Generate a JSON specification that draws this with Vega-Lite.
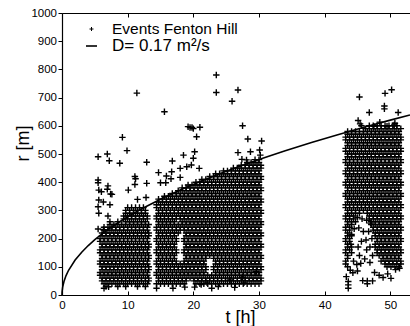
{
"$schema": "https://vega.github.io/schema/vega-lite/v6.json",
"width": 348, "height": 282,
"autosize": "none",
"padding": {"left": 62, "top": 13, "right": 0, "bottom": 31},
"background": "white",
"config": {"font": "Liberation Sans", "view": {"stroke": null},
 "axis": {"grid": false, "domainColor": "black", "tickColor": "black", "labelColor": "black", "titleColor": "black", "labelFont": "Liberation Sans", "titleFont": "Liberation Sans", "domainWidth": 1.2, "tickWidth": 1, "labelFlush": false, "labelOverlap": false},
 "legend": {"orient": "none", "legendX": 21, "legendY": 7.5, "title": null, "padding": 0, "symbolSize": 121, "symbolType": "stroke", "labelFontSize": 15.5, "labelOffset": 12, "rowPadding": -1, "labelColor": "black", "labelBaseline": "middle", "labelLimit": 300, "symbolStrokeColor": "black", "symbolStrokeWidth": 1.6}},
"encoding": {"y": {"field": "r", "type": "quantitative", "scale": {"domain": [0, 1000], "nice": false},
 "axis": {"orient": "left", "values": [0,100,200,300,400,500,600,700,800,900,1000], "format": "d", "tickSize": 4, "labelPadding": 1.5, "labelFontSize": 11.5, "title": "r [m]", "titleFontSize": 18, "titleFontWeight": "normal", "titleAngle": -90, "titleX": -34, "titleY": 130, "titleBaseline": "alphabetic", "titleAlign": "center"}}},
"layer": [
{"data": {"values": [
{"t":11.4,"r":716},{"t":23.5,"r":780},{"t":23.5,"r":718},{"t":26.8,"r":727},{"t":25.9,"r":687},{"t":45.3,"r":702},{"t":49.2,"r":715},{"t":50.2,"r":728},{"t":49.1,"r":670},{"t":49.1,"r":660},{"t":15.6,"r":650},
{"t":5.5,"r":490},{"t":6.9,"r":500},{"t":7.2,"r":476},{"t":9.2,"r":559},{"t":9.9,"r":512},{"t":8.8,"r":467},{"t":12.9,"r":471},{"t":5.5,"r":408},{"t":5.5,"r":398},{"t":5.6,"r":372},{"t":6.0,"r":366},{"t":6.9,"r":375},{"t":7.0,"r":387},{"t":7.6,"r":357},{"t":5.6,"r":337},{"t":6.3,"r":330},{"t":10.1,"r":372},{"t":11.1,"r":420},{"t":11.2,"r":412},{"t":11.1,"r":392},{"t":11.5,"r":339},{"t":12.9,"r":396},{"t":5.5,"r":313},{"t":5.6,"r":290},{"t":5.5,"r":234},{"t":6.3,"r":232},{"t":12.8,"r":346},{"t":7.3,"r":320},{"t":7.4,"r":358},
{"t":19.2,"r":597},{"t":19.5,"r":594},{"t":19.8,"r":594},{"t":20.0,"r":590},{"t":20.5,"r":561},{"t":16.8,"r":475},{"t":18.0,"r":449},{"t":18.5,"r":496},{"t":20.2,"r":508},{"t":20.0,"r":485},{"t":19.7,"r":461},{"t":19.0,"r":455},{"t":20.9,"r":449},{"t":14.7,"r":434},{"t":15.9,"r":422},{"t":16.7,"r":437},{"t":16.6,"r":412},{"t":15.0,"r":398},{"t":18.0,"r":417},{"t":15.8,"r":398},
{"t":21.0,"r":595},{"t":27.5,"r":600},{"t":28.3,"r":553},{"t":30.4,"r":546},{"t":26.8,"r":505},{"t":28.7,"r":508},{"t":30.1,"r":514},{"t":30.2,"r":496},{"t":27.4,"r":481},{"t":28.1,"r":479},
{"t":46.8,"r":647},{"t":51.2,"r":647},{"t":45.1,"r":619},{"t":45.4,"r":607},{"t":45.6,"r":600},{"t":48.4,"r":613},{"t":50.7,"r":609},{"t":50.6,"r":603},{"t":49.5,"r":598},{"t":47.5,"r":598},
{"t":6.4,"r":24},{"t":7.1,"r":29},{"t":14.4,"r":24},{"t":16.9,"r":24},{"t":18.7,"r":28},{"t":20.2,"r":28},{"t":21.2,"r":37},{"t":22.1,"r":43},{"t":22.8,"r":24},{"t":23.8,"r":30},{"t":25.6,"r":53},{"t":26.3,"r":27},{"t":27.5,"r":63},{"t":27.7,"r":43},{"t":29.6,"r":83},
{"t":43.6,"r":24},{"t":43.6,"r":36},{"t":43.6,"r":48},{"t":45.8,"r":51},{"t":46.5,"r":50},{"t":46.5,"r":40},{"t":47.3,"r":50},{"t":50.1,"r":59},{"t":44.3,"r":79},{"t":45.0,"r":85},{"t":47.6,"r":80},{"t":48.3,"r":70},{"t":48.9,"r":62},{"t":49.6,"r":75},{"t":50.8,"r":90},{"t":51.4,"r":95},{"t":43.3,"r":65},{"t":43.9,"r":88},
{"t":44.4,"r":120},{"t":44.9,"r":108},{"t":45.5,"r":112},{"t":46.1,"r":128},{"t":46.4,"r":160},{"t":46.3,"r":195},{"t":45.9,"r":225},{"t":45.2,"r":238},{"t":44.5,"r":235},{"t":44.1,"r":215},{"t":44.0,"r":180},{"t":44.1,"r":150},
{"t":46.9,"r":115},{"t":47.3,"r":140},{"t":46.9,"r":170},{"t":47.2,"r":200},{"t":46.7,"r":225},{"t":47.0,"r":255},{"t":46.4,"r":265},{"t":45.7,"r":270},{"t":45.0,"r":275},{"t":44.7,"r":260},{"t":45.6,"r":190},{"t":45.1,"r":170},{"t":45.3,"r":140},

{"t":6.7,"r":30},{"t":8.5,"r":30},{"t":9.7,"r":30},{"t":11.5,"r":30},{"t":12.7,"r":30},
{"t":6.4,"r":40},{"t":7.0,"r":40},{"t":7.6,"r":40},{"t":8.2,"r":40},{"t":8.8,"r":40},{"t":9.4,"r":40},{"t":10.0,"r":40},{"t":10.6,"r":40},{"t":11.2,"r":40},{"t":11.8,"r":40},{"t":12.4,"r":40},{"t":13.0,"r":40},
{"t":6.1,"r":50},{"t":6.7,"r":50},{"t":7.3,"r":50},{"t":7.9,"r":50},{"t":8.5,"r":50},{"t":9.1,"r":50},{"t":9.7,"r":50},{"t":10.3,"r":50},{"t":10.9,"r":50},{"t":11.5,"r":50},{"t":12.1,"r":50},{"t":12.7,"r":50},{"t":13.2,"r":50},
{"t":6.1,"r":60},{"t":6.7,"r":60},{"t":7.3,"r":60},{"t":7.9,"r":60},{"t":8.5,"r":60},{"t":9.1,"r":60},{"t":9.7,"r":60},{"t":10.3,"r":60},{"t":10.9,"r":60},{"t":11.5,"r":60},{"t":12.1,"r":60},{"t":12.7,"r":60},{"t":13.2,"r":60},
{"t":5.8,"r":70},{"t":6.4,"r":70},{"t":7.0,"r":70},{"t":7.6,"r":70},{"t":8.2,"r":70},{"t":8.8,"r":70},{"t":9.4,"r":70},{"t":10.0,"r":70},{"t":10.6,"r":70},{"t":11.2,"r":70},{"t":11.8,"r":70},{"t":12.4,"r":70},{"t":13.0,"r":70},
{"t":5.8,"r":80},{"t":6.4,"r":80},{"t":7.0,"r":80},{"t":7.6,"r":80},{"t":8.2,"r":80},{"t":8.8,"r":80},{"t":9.4,"r":80},{"t":10.0,"r":80},{"t":10.6,"r":80},{"t":11.2,"r":80},{"t":11.8,"r":80},{"t":12.4,"r":80},{"t":13.0,"r":80},
{"t":6.1,"r":90},{"t":6.7,"r":90},{"t":7.3,"r":90},{"t":7.9,"r":90},{"t":8.5,"r":90},{"t":9.1,"r":90},{"t":9.7,"r":90},{"t":10.3,"r":90},{"t":10.9,"r":90},{"t":11.5,"r":90},{"t":12.1,"r":90},{"t":12.7,"r":90},{"t":13.2,"r":90},
{"t":6.1,"r":100},{"t":6.7,"r":100},{"t":7.3,"r":100},{"t":7.9,"r":100},{"t":8.5,"r":100},{"t":9.1,"r":100},{"t":9.7,"r":100},{"t":10.3,"r":100},{"t":10.9,"r":100},{"t":11.5,"r":100},{"t":12.1,"r":100},{"t":12.7,"r":100},{"t":13.2,"r":100},
{"t":5.8,"r":110},{"t":6.4,"r":110},{"t":7.0,"r":110},{"t":7.6,"r":110},{"t":8.2,"r":110},{"t":8.8,"r":110},{"t":9.4,"r":110},{"t":10.0,"r":110},{"t":10.6,"r":110},{"t":11.2,"r":110},{"t":11.8,"r":110},{"t":12.4,"r":110},{"t":13.0,"r":110},
{"t":5.8,"r":120},{"t":6.4,"r":120},{"t":7.0,"r":120},{"t":7.6,"r":120},{"t":8.2,"r":120},{"t":8.8,"r":120},{"t":9.4,"r":120},{"t":10.0,"r":120},{"t":10.6,"r":120},{"t":11.2,"r":120},{"t":11.8,"r":120},{"t":12.4,"r":120},{"t":13.0,"r":120},
{"t":6.1,"r":130},{"t":6.7,"r":130},{"t":7.3,"r":130},{"t":7.9,"r":130},{"t":8.5,"r":130},{"t":9.1,"r":130},{"t":9.7,"r":130},{"t":10.3,"r":130},{"t":10.9,"r":130},{"t":11.5,"r":130},{"t":12.1,"r":130},{"t":12.7,"r":130},{"t":13.2,"r":130},
{"t":6.1,"r":140},{"t":6.7,"r":140},{"t":7.3,"r":140},{"t":7.9,"r":140},{"t":8.5,"r":140},{"t":9.1,"r":140},{"t":9.7,"r":140},{"t":10.3,"r":140},{"t":10.9,"r":140},{"t":11.5,"r":140},{"t":12.1,"r":140},{"t":12.7,"r":140},{"t":13.2,"r":140},
{"t":5.8,"r":150},{"t":6.4,"r":150},{"t":7.0,"r":150},{"t":7.6,"r":150},{"t":8.2,"r":150},{"t":8.8,"r":150},{"t":9.4,"r":150},{"t":10.0,"r":150},{"t":10.6,"r":150},{"t":11.2,"r":150},{"t":11.8,"r":150},{"t":12.4,"r":150},{"t":13.0,"r":150},
{"t":5.8,"r":160},{"t":6.4,"r":160},{"t":7.0,"r":160},{"t":7.6,"r":160},{"t":8.2,"r":160},{"t":8.8,"r":160},{"t":9.4,"r":160},{"t":10.0,"r":160},{"t":10.6,"r":160},{"t":11.2,"r":160},{"t":11.8,"r":160},{"t":12.4,"r":160},{"t":13.0,"r":160},
{"t":6.1,"r":170},{"t":6.7,"r":170},{"t":7.3,"r":170},{"t":7.9,"r":170},{"t":8.5,"r":170},{"t":9.1,"r":170},{"t":9.7,"r":170},{"t":10.3,"r":170},{"t":10.9,"r":170},{"t":11.5,"r":170},{"t":12.1,"r":170},{"t":12.7,"r":170},{"t":13.2,"r":170},
{"t":6.1,"r":180},{"t":6.7,"r":180},{"t":7.3,"r":180},{"t":7.9,"r":180},{"t":8.5,"r":180},{"t":9.1,"r":180},{"t":9.7,"r":180},{"t":10.3,"r":180},{"t":10.9,"r":180},{"t":11.5,"r":180},{"t":12.1,"r":180},{"t":12.7,"r":180},{"t":13.2,"r":180},
{"t":5.8,"r":190},{"t":6.4,"r":190},{"t":7.0,"r":190},{"t":7.6,"r":190},{"t":8.2,"r":190},{"t":8.8,"r":190},{"t":9.4,"r":190},{"t":10.0,"r":190},{"t":10.6,"r":190},{"t":11.2,"r":190},{"t":11.8,"r":190},{"t":12.4,"r":190},{"t":13.0,"r":190},
{"t":5.8,"r":200},{"t":6.4,"r":200},{"t":7.0,"r":200},{"t":7.6,"r":200},{"t":8.2,"r":200},{"t":8.8,"r":200},{"t":9.4,"r":200},{"t":10.0,"r":200},{"t":10.6,"r":200},{"t":11.2,"r":200},{"t":11.8,"r":200},{"t":12.4,"r":200},{"t":13.0,"r":200},
{"t":6.1,"r":210},{"t":6.7,"r":210},{"t":7.3,"r":210},{"t":7.9,"r":210},{"t":8.5,"r":210},{"t":9.1,"r":210},{"t":9.7,"r":210},{"t":10.3,"r":210},{"t":10.9,"r":210},{"t":11.5,"r":210},{"t":12.1,"r":210},{"t":12.7,"r":210},{"t":13.2,"r":210},
{"t":6.1,"r":220},{"t":6.7,"r":220},{"t":7.3,"r":220},{"t":7.9,"r":220},{"t":8.5,"r":220},{"t":9.1,"r":220},{"t":9.7,"r":220},{"t":10.3,"r":220},{"t":10.9,"r":220},{"t":11.5,"r":220},{"t":12.1,"r":220},{"t":12.7,"r":220},{"t":13.2,"r":220},
{"t":6.4,"r":230},{"t":7.0,"r":230},{"t":7.6,"r":230},{"t":8.2,"r":230},{"t":8.8,"r":230},{"t":9.4,"r":230},{"t":10.0,"r":230},{"t":10.6,"r":230},{"t":11.2,"r":230},{"t":11.8,"r":230},{"t":12.4,"r":230},{"t":13.0,"r":230},
{"t":6.4,"r":240},{"t":7.0,"r":240},{"t":7.6,"r":240},{"t":8.2,"r":240},{"t":8.8,"r":240},{"t":9.4,"r":240},{"t":10.0,"r":240},{"t":10.6,"r":240},{"t":11.2,"r":240},{"t":11.8,"r":240},{"t":12.4,"r":240},{"t":13.0,"r":240},
{"t":7.3,"r":250},{"t":7.9,"r":250},{"t":8.5,"r":250},{"t":9.1,"r":250},{"t":9.7,"r":250},{"t":10.3,"r":250},{"t":10.9,"r":250},{"t":11.5,"r":250},{"t":12.1,"r":250},{"t":12.7,"r":250},{"t":13.2,"r":250},
{"t":7.3,"r":260},{"t":8.5,"r":260},{"t":9.7,"r":260},{"t":10.3,"r":260},{"t":10.9,"r":260},{"t":11.5,"r":260},{"t":12.1,"r":260},{"t":12.7,"r":260},
{"t":9.4,"r":270},{"t":10.0,"r":270},{"t":10.6,"r":270},{"t":11.2,"r":270},{"t":11.8,"r":270},{"t":12.4,"r":270},{"t":13.0,"r":270},
{"t":7.0,"r":280},{"t":9.4,"r":280},{"t":10.0,"r":280},{"t":10.6,"r":280},{"t":11.2,"r":280},{"t":11.8,"r":280},{"t":12.4,"r":280},{"t":13.0,"r":280},
{"t":9.7,"r":290},{"t":10.3,"r":290},{"t":10.9,"r":290},{"t":11.5,"r":290},{"t":12.1,"r":290},{"t":12.7,"r":290},
{"t":9.7,"r":300},{"t":10.3,"r":300},{"t":10.9,"r":300},{"t":11.5,"r":300},{"t":12.1,"r":300},{"t":12.7,"r":300},
{"t":10.0,"r":310},{"t":10.6,"r":310},{"t":11.2,"r":310},{"t":11.8,"r":310},{"t":12.4,"r":310},

{"t":14.4,"r":40},{"t":15.0,"r":40},{"t":15.6,"r":40},{"t":16.2,"r":40},{"t":16.8,"r":40},{"t":17.4,"r":40},{"t":18.0,"r":40},{"t":18.6,"r":40},{"t":20.4,"r":40},{"t":21.0,"r":40},{"t":21.6,"r":40},{"t":22.2,"r":40},{"t":22.8,"r":40},{"t":23.4,"r":40},{"t":24.0,"r":40},{"t":24.6,"r":40},{"t":25.2,"r":40},{"t":25.8,"r":40},{"t":26.4,"r":40},{"t":27.0,"r":40},{"t":27.6,"r":40},{"t":28.2,"r":40},{"t":28.8,"r":40},{"t":29.4,"r":40},{"t":30.0,"r":40},
{"t":14.7,"r":50},{"t":15.3,"r":50},{"t":15.9,"r":50},{"t":16.5,"r":50},{"t":17.1,"r":50},{"t":17.7,"r":50},{"t":18.3,"r":50},{"t":18.9,"r":50},{"t":20.1,"r":50},{"t":20.7,"r":50},{"t":21.3,"r":50},{"t":21.9,"r":50},{"t":22.5,"r":50},{"t":23.1,"r":50},{"t":23.7,"r":50},{"t":24.3,"r":50},{"t":24.9,"r":50},{"t":25.5,"r":50},{"t":26.1,"r":50},{"t":26.7,"r":50},{"t":27.3,"r":50},{"t":27.9,"r":50},{"t":28.5,"r":50},{"t":29.1,"r":50},{"t":29.7,"r":50},{"t":30.3,"r":50},
{"t":14.7,"r":60},{"t":15.3,"r":60},{"t":15.9,"r":60},{"t":16.5,"r":60},{"t":17.1,"r":60},{"t":17.7,"r":60},{"t":18.3,"r":60},{"t":18.9,"r":60},{"t":19.5,"r":60},{"t":20.1,"r":60},{"t":20.7,"r":60},{"t":21.3,"r":60},{"t":21.9,"r":60},{"t":22.5,"r":60},{"t":23.1,"r":60},{"t":23.7,"r":60},{"t":24.3,"r":60},{"t":24.9,"r":60},{"t":25.5,"r":60},{"t":26.1,"r":60},{"t":26.7,"r":60},{"t":27.3,"r":60},{"t":27.9,"r":60},{"t":28.5,"r":60},{"t":29.1,"r":60},{"t":29.7,"r":60},{"t":30.3,"r":60},
{"t":14.4,"r":70},{"t":15.0,"r":70},{"t":15.6,"r":70},{"t":16.2,"r":70},{"t":16.8,"r":70},{"t":17.4,"r":70},{"t":18.0,"r":70},{"t":18.6,"r":70},{"t":19.2,"r":70},{"t":19.8,"r":70},{"t":20.4,"r":70},{"t":21.0,"r":70},{"t":21.6,"r":70},{"t":22.2,"r":70},{"t":22.8,"r":70},{"t":23.4,"r":70},{"t":24.0,"r":70},{"t":24.6,"r":70},{"t":25.2,"r":70},{"t":25.8,"r":70},{"t":26.4,"r":70},{"t":27.0,"r":70},{"t":27.6,"r":70},{"t":28.2,"r":70},{"t":28.8,"r":70},{"t":29.4,"r":70},{"t":30.0,"r":70},
{"t":14.4,"r":80},{"t":15.0,"r":80},{"t":15.6,"r":80},{"t":16.2,"r":80},{"t":16.8,"r":80},{"t":17.4,"r":80},{"t":18.0,"r":80},{"t":18.6,"r":80},{"t":19.2,"r":80},{"t":19.8,"r":80},{"t":20.4,"r":80},{"t":21.0,"r":80},{"t":21.6,"r":80},{"t":23.4,"r":80},{"t":24.0,"r":80},{"t":24.6,"r":80},{"t":25.2,"r":80},{"t":25.8,"r":80},{"t":26.4,"r":80},{"t":27.0,"r":80},{"t":27.6,"r":80},{"t":28.2,"r":80},{"t":28.8,"r":80},{"t":29.4,"r":80},{"t":30.0,"r":80},
{"t":14.7,"r":90},{"t":15.3,"r":90},{"t":15.9,"r":90},{"t":16.5,"r":90},{"t":17.1,"r":90},{"t":17.7,"r":90},{"t":18.3,"r":90},{"t":18.9,"r":90},{"t":19.5,"r":90},{"t":20.1,"r":90},{"t":20.7,"r":90},{"t":21.3,"r":90},{"t":21.9,"r":90},{"t":23.1,"r":90},{"t":23.7,"r":90},{"t":24.3,"r":90},{"t":24.9,"r":90},{"t":25.5,"r":90},{"t":26.1,"r":90},{"t":26.7,"r":90},{"t":27.3,"r":90},{"t":27.9,"r":90},{"t":28.5,"r":90},{"t":29.1,"r":90},{"t":29.7,"r":90},{"t":30.3,"r":90},
{"t":14.7,"r":100},{"t":15.3,"r":100},{"t":15.9,"r":100},{"t":16.5,"r":100},{"t":17.1,"r":100},{"t":17.7,"r":100},{"t":18.3,"r":100},{"t":18.9,"r":100},{"t":19.5,"r":100},{"t":20.1,"r":100},{"t":20.7,"r":100},{"t":21.3,"r":100},{"t":21.9,"r":100},{"t":23.1,"r":100},{"t":23.7,"r":100},{"t":24.3,"r":100},{"t":24.9,"r":100},{"t":25.5,"r":100},{"t":26.1,"r":100},{"t":26.7,"r":100},{"t":27.3,"r":100},{"t":27.9,"r":100},{"t":28.5,"r":100},{"t":29.1,"r":100},{"t":29.7,"r":100},{"t":30.3,"r":100},
{"t":14.4,"r":110},{"t":15.0,"r":110},{"t":15.6,"r":110},{"t":16.2,"r":110},{"t":16.8,"r":110},{"t":17.4,"r":110},{"t":18.0,"r":110},{"t":18.6,"r":110},{"t":19.2,"r":110},{"t":19.8,"r":110},{"t":20.4,"r":110},{"t":21.0,"r":110},{"t":21.6,"r":110},{"t":23.4,"r":110},{"t":24.0,"r":110},{"t":24.6,"r":110},{"t":25.2,"r":110},{"t":25.8,"r":110},{"t":26.4,"r":110},{"t":27.0,"r":110},{"t":27.6,"r":110},{"t":28.2,"r":110},{"t":28.8,"r":110},{"t":29.4,"r":110},{"t":30.0,"r":110},
{"t":14.4,"r":120},{"t":15.0,"r":120},{"t":15.6,"r":120},{"t":16.2,"r":120},{"t":16.8,"r":120},{"t":17.4,"r":120},{"t":18.6,"r":120},{"t":19.2,"r":120},{"t":19.8,"r":120},{"t":20.4,"r":120},{"t":21.0,"r":120},{"t":21.6,"r":120},{"t":23.4,"r":120},{"t":24.0,"r":120},{"t":24.6,"r":120},{"t":25.2,"r":120},{"t":25.8,"r":120},{"t":26.4,"r":120},{"t":27.0,"r":120},{"t":27.6,"r":120},{"t":28.2,"r":120},{"t":28.8,"r":120},{"t":29.4,"r":120},{"t":30.0,"r":120},
{"t":14.7,"r":130},{"t":15.3,"r":130},{"t":15.9,"r":130},{"t":16.5,"r":130},{"t":17.1,"r":130},{"t":18.9,"r":130},{"t":19.5,"r":130},{"t":20.1,"r":130},{"t":20.7,"r":130},{"t":21.3,"r":130},{"t":21.9,"r":130},{"t":23.1,"r":130},{"t":23.7,"r":130},{"t":24.3,"r":130},{"t":24.9,"r":130},{"t":25.5,"r":130},{"t":26.1,"r":130},{"t":26.7,"r":130},{"t":27.3,"r":130},{"t":27.9,"r":130},{"t":28.5,"r":130},{"t":29.1,"r":130},{"t":29.7,"r":130},{"t":30.3,"r":130},
{"t":14.7,"r":140},{"t":15.3,"r":140},{"t":15.9,"r":140},{"t":16.5,"r":140},{"t":17.1,"r":140},{"t":18.9,"r":140},{"t":19.5,"r":140},{"t":20.1,"r":140},{"t":20.7,"r":140},{"t":21.3,"r":140},{"t":21.9,"r":140},{"t":22.5,"r":140},{"t":23.1,"r":140},{"t":23.7,"r":140},{"t":24.3,"r":140},{"t":24.9,"r":140},{"t":25.5,"r":140},{"t":26.1,"r":140},{"t":26.7,"r":140},{"t":27.3,"r":140},{"t":27.9,"r":140},{"t":28.5,"r":140},{"t":29.1,"r":140},{"t":29.7,"r":140},{"t":30.3,"r":140},
{"t":14.4,"r":150},{"t":15.0,"r":150},{"t":15.6,"r":150},{"t":16.2,"r":150},{"t":16.8,"r":150},{"t":17.4,"r":150},{"t":18.6,"r":150},{"t":19.2,"r":150},{"t":19.8,"r":150},{"t":20.4,"r":150},{"t":21.0,"r":150},{"t":21.6,"r":150},{"t":22.2,"r":150},{"t":22.8,"r":150},{"t":23.4,"r":150},{"t":24.0,"r":150},{"t":24.6,"r":150},{"t":25.2,"r":150},{"t":25.8,"r":150},{"t":26.4,"r":150},{"t":27.0,"r":150},{"t":27.6,"r":150},{"t":28.2,"r":150},{"t":28.8,"r":150},{"t":29.4,"r":150},{"t":30.0,"r":150},
{"t":14.4,"r":160},{"t":15.0,"r":160},{"t":15.6,"r":160},{"t":16.2,"r":160},{"t":16.8,"r":160},{"t":17.4,"r":160},{"t":18.6,"r":160},{"t":19.2,"r":160},{"t":19.8,"r":160},{"t":20.4,"r":160},{"t":21.0,"r":160},{"t":21.6,"r":160},{"t":22.2,"r":160},{"t":22.8,"r":160},{"t":23.4,"r":160},{"t":24.0,"r":160},{"t":24.6,"r":160},{"t":25.2,"r":160},{"t":25.8,"r":160},{"t":26.4,"r":160},{"t":27.0,"r":160},{"t":27.6,"r":160},{"t":28.2,"r":160},{"t":28.8,"r":160},{"t":29.4,"r":160},{"t":30.0,"r":160},
{"t":14.7,"r":170},{"t":15.3,"r":170},{"t":15.9,"r":170},{"t":16.5,"r":170},{"t":17.1,"r":170},{"t":18.9,"r":170},{"t":19.5,"r":170},{"t":20.1,"r":170},{"t":20.7,"r":170},{"t":21.3,"r":170},{"t":21.9,"r":170},{"t":22.5,"r":170},{"t":23.1,"r":170},{"t":23.7,"r":170},{"t":24.3,"r":170},{"t":24.9,"r":170},{"t":25.5,"r":170},{"t":26.1,"r":170},{"t":26.7,"r":170},{"t":27.3,"r":170},{"t":27.9,"r":170},{"t":28.5,"r":170},{"t":29.1,"r":170},{"t":29.7,"r":170},{"t":30.3,"r":170},
{"t":14.7,"r":180},{"t":15.3,"r":180},{"t":15.9,"r":180},{"t":16.5,"r":180},{"t":17.1,"r":180},{"t":18.9,"r":180},{"t":19.5,"r":180},{"t":20.1,"r":180},{"t":20.7,"r":180},{"t":21.3,"r":180},{"t":21.9,"r":180},{"t":22.5,"r":180},{"t":23.1,"r":180},{"t":23.7,"r":180},{"t":24.3,"r":180},{"t":24.9,"r":180},{"t":25.5,"r":180},{"t":26.1,"r":180},{"t":26.7,"r":180},{"t":27.3,"r":180},{"t":27.9,"r":180},{"t":28.5,"r":180},{"t":29.1,"r":180},{"t":29.7,"r":180},{"t":30.3,"r":180},
{"t":14.4,"r":190},{"t":15.0,"r":190},{"t":15.6,"r":190},{"t":16.2,"r":190},{"t":16.8,"r":190},{"t":17.4,"r":190},{"t":18.6,"r":190},{"t":19.2,"r":190},{"t":19.8,"r":190},{"t":20.4,"r":190},{"t":21.0,"r":190},{"t":21.6,"r":190},{"t":22.2,"r":190},{"t":22.8,"r":190},{"t":23.4,"r":190},{"t":24.0,"r":190},{"t":24.6,"r":190},{"t":25.2,"r":190},{"t":25.8,"r":190},{"t":26.4,"r":190},{"t":27.0,"r":190},{"t":27.6,"r":190},{"t":28.2,"r":190},{"t":28.8,"r":190},{"t":29.4,"r":190},{"t":30.0,"r":190},
{"t":14.4,"r":200},{"t":15.0,"r":200},{"t":15.6,"r":200},{"t":16.2,"r":200},{"t":16.8,"r":200},{"t":17.4,"r":200},{"t":18.6,"r":200},{"t":19.2,"r":200},{"t":19.8,"r":200},{"t":20.4,"r":200},{"t":21.0,"r":200},{"t":21.6,"r":200},{"t":22.2,"r":200},{"t":22.8,"r":200},{"t":23.4,"r":200},{"t":24.0,"r":200},{"t":24.6,"r":200},{"t":25.2,"r":200},{"t":25.8,"r":200},{"t":26.4,"r":200},{"t":27.0,"r":200},{"t":27.6,"r":200},{"t":28.2,"r":200},{"t":28.8,"r":200},{"t":29.4,"r":200},{"t":30.0,"r":200},
{"t":14.7,"r":210},{"t":15.3,"r":210},{"t":15.9,"r":210},{"t":16.5,"r":210},{"t":17.1,"r":210},{"t":18.9,"r":210},{"t":19.5,"r":210},{"t":20.1,"r":210},{"t":20.7,"r":210},{"t":21.3,"r":210},{"t":21.9,"r":210},{"t":22.5,"r":210},{"t":23.1,"r":210},{"t":23.7,"r":210},{"t":24.3,"r":210},{"t":24.9,"r":210},{"t":25.5,"r":210},{"t":26.1,"r":210},{"t":26.7,"r":210},{"t":27.3,"r":210},{"t":27.9,"r":210},{"t":28.5,"r":210},{"t":29.1,"r":210},{"t":29.7,"r":210},{"t":30.3,"r":210},
{"t":14.7,"r":220},{"t":15.3,"r":220},{"t":15.9,"r":220},{"t":16.5,"r":220},{"t":17.1,"r":220},{"t":17.7,"r":220},{"t":18.9,"r":220},{"t":19.5,"r":220},{"t":20.1,"r":220},{"t":20.7,"r":220},{"t":21.3,"r":220},{"t":21.9,"r":220},{"t":22.5,"r":220},{"t":23.1,"r":220},{"t":23.7,"r":220},{"t":24.3,"r":220},{"t":24.9,"r":220},{"t":25.5,"r":220},{"t":26.1,"r":220},{"t":26.7,"r":220},{"t":27.3,"r":220},{"t":27.9,"r":220},{"t":28.5,"r":220},{"t":29.1,"r":220},{"t":29.7,"r":220},{"t":30.3,"r":220},
{"t":14.4,"r":230},{"t":15.0,"r":230},{"t":15.6,"r":230},{"t":16.2,"r":230},{"t":16.8,"r":230},{"t":17.4,"r":230},{"t":18.0,"r":230},{"t":18.6,"r":230},{"t":19.2,"r":230},{"t":19.8,"r":230},{"t":20.4,"r":230},{"t":21.0,"r":230},{"t":21.6,"r":230},{"t":22.2,"r":230},{"t":22.8,"r":230},{"t":23.4,"r":230},{"t":24.0,"r":230},{"t":24.6,"r":230},{"t":25.2,"r":230},{"t":25.8,"r":230},{"t":26.4,"r":230},{"t":27.0,"r":230},{"t":27.6,"r":230},{"t":28.2,"r":230},{"t":28.8,"r":230},{"t":29.4,"r":230},{"t":30.0,"r":230},
{"t":14.4,"r":240},{"t":15.0,"r":240},{"t":15.6,"r":240},{"t":16.2,"r":240},{"t":16.8,"r":240},{"t":17.4,"r":240},{"t":18.0,"r":240},{"t":18.6,"r":240},{"t":19.2,"r":240},{"t":19.8,"r":240},{"t":20.4,"r":240},{"t":21.0,"r":240},{"t":21.6,"r":240},{"t":22.2,"r":240},{"t":22.8,"r":240},{"t":23.4,"r":240},{"t":24.0,"r":240},{"t":24.6,"r":240},{"t":25.2,"r":240},{"t":25.8,"r":240},{"t":26.4,"r":240},{"t":27.0,"r":240},{"t":27.6,"r":240},{"t":28.2,"r":240},{"t":28.8,"r":240},{"t":29.4,"r":240},{"t":30.0,"r":240},
{"t":14.7,"r":250},{"t":15.3,"r":250},{"t":15.9,"r":250},{"t":16.5,"r":250},{"t":17.1,"r":250},{"t":17.7,"r":250},{"t":18.3,"r":250},{"t":18.9,"r":250},{"t":19.5,"r":250},{"t":20.1,"r":250},{"t":20.7,"r":250},{"t":21.3,"r":250},{"t":21.9,"r":250},{"t":22.5,"r":250},{"t":23.1,"r":250},{"t":23.7,"r":250},{"t":24.3,"r":250},{"t":24.9,"r":250},{"t":25.5,"r":250},{"t":26.1,"r":250},{"t":26.7,"r":250},{"t":27.3,"r":250},{"t":27.9,"r":250},{"t":28.5,"r":250},{"t":29.1,"r":250},{"t":29.7,"r":250},{"t":30.3,"r":250},
{"t":14.7,"r":260},{"t":15.3,"r":260},{"t":15.9,"r":260},{"t":16.5,"r":260},{"t":17.1,"r":260},{"t":18.3,"r":260},{"t":18.9,"r":260},{"t":19.5,"r":260},{"t":20.1,"r":260},{"t":20.7,"r":260},{"t":21.3,"r":260},{"t":21.9,"r":260},{"t":22.5,"r":260},{"t":23.1,"r":260},{"t":23.7,"r":260},{"t":24.3,"r":260},{"t":24.9,"r":260},{"t":25.5,"r":260},{"t":26.1,"r":260},{"t":26.7,"r":260},{"t":27.3,"r":260},{"t":27.9,"r":260},{"t":28.5,"r":260},{"t":29.1,"r":260},{"t":29.7,"r":260},{"t":30.3,"r":260},
{"t":14.4,"r":270},{"t":15.0,"r":270},{"t":15.6,"r":270},{"t":16.2,"r":270},{"t":16.8,"r":270},{"t":17.4,"r":270},{"t":18.0,"r":270},{"t":18.6,"r":270},{"t":19.2,"r":270},{"t":19.8,"r":270},{"t":20.4,"r":270},{"t":21.0,"r":270},{"t":21.6,"r":270},{"t":22.2,"r":270},{"t":22.8,"r":270},{"t":23.4,"r":270},{"t":24.0,"r":270},{"t":24.6,"r":270},{"t":25.2,"r":270},{"t":25.8,"r":270},{"t":26.4,"r":270},{"t":27.0,"r":270},{"t":27.6,"r":270},{"t":28.2,"r":270},{"t":28.8,"r":270},{"t":29.4,"r":270},{"t":30.0,"r":270},
{"t":14.4,"r":280},{"t":15.0,"r":280},{"t":15.6,"r":280},{"t":16.2,"r":280},{"t":16.8,"r":280},{"t":17.4,"r":280},{"t":18.0,"r":280},{"t":18.6,"r":280},{"t":19.2,"r":280},{"t":19.8,"r":280},{"t":20.4,"r":280},{"t":21.0,"r":280},{"t":21.6,"r":280},{"t":22.2,"r":280},{"t":22.8,"r":280},{"t":23.4,"r":280},{"t":24.0,"r":280},{"t":24.6,"r":280},{"t":25.2,"r":280},{"t":25.8,"r":280},{"t":26.4,"r":280},{"t":27.0,"r":280},{"t":27.6,"r":280},{"t":28.2,"r":280},{"t":28.8,"r":280},{"t":29.4,"r":280},{"t":30.0,"r":280},
{"t":14.7,"r":290},{"t":15.3,"r":290},{"t":15.9,"r":290},{"t":16.5,"r":290},{"t":17.1,"r":290},{"t":17.7,"r":290},{"t":18.3,"r":290},{"t":18.9,"r":290},{"t":19.5,"r":290},{"t":20.1,"r":290},{"t":20.7,"r":290},{"t":21.3,"r":290},{"t":21.9,"r":290},{"t":22.5,"r":290},{"t":23.1,"r":290},{"t":23.7,"r":290},{"t":24.3,"r":290},{"t":24.9,"r":290},{"t":25.5,"r":290},{"t":26.1,"r":290},{"t":26.7,"r":290},{"t":27.3,"r":290},{"t":27.9,"r":290},{"t":28.5,"r":290},{"t":29.1,"r":290},{"t":29.7,"r":290},{"t":30.3,"r":290},
{"t":14.7,"r":300},{"t":15.3,"r":300},{"t":15.9,"r":300},{"t":16.5,"r":300},{"t":17.1,"r":300},{"t":17.7,"r":300},{"t":18.3,"r":300},{"t":18.9,"r":300},{"t":19.5,"r":300},{"t":20.1,"r":300},{"t":20.7,"r":300},{"t":21.3,"r":300},{"t":21.9,"r":300},{"t":22.5,"r":300},{"t":23.1,"r":300},{"t":23.7,"r":300},{"t":24.3,"r":300},{"t":24.9,"r":300},{"t":25.5,"r":300},{"t":26.1,"r":300},{"t":26.7,"r":300},{"t":27.3,"r":300},{"t":27.9,"r":300},{"t":28.5,"r":300},{"t":29.1,"r":300},{"t":29.7,"r":300},{"t":30.3,"r":300},
{"t":14.4,"r":310},{"t":15.0,"r":310},{"t":15.6,"r":310},{"t":16.2,"r":310},{"t":16.8,"r":310},{"t":17.4,"r":310},{"t":18.0,"r":310},{"t":18.6,"r":310},{"t":19.2,"r":310},{"t":19.8,"r":310},{"t":20.4,"r":310},{"t":21.0,"r":310},{"t":21.6,"r":310},{"t":22.2,"r":310},{"t":22.8,"r":310},{"t":23.4,"r":310},{"t":24.0,"r":310},{"t":24.6,"r":310},{"t":25.2,"r":310},{"t":25.8,"r":310},{"t":26.4,"r":310},{"t":27.0,"r":310},{"t":27.6,"r":310},{"t":28.2,"r":310},{"t":28.8,"r":310},{"t":29.4,"r":310},{"t":30.0,"r":310},
{"t":14.4,"r":320},{"t":15.0,"r":320},{"t":15.6,"r":320},{"t":16.2,"r":320},{"t":16.8,"r":320},{"t":17.4,"r":320},{"t":18.0,"r":320},{"t":18.6,"r":320},{"t":19.2,"r":320},{"t":19.8,"r":320},{"t":20.4,"r":320},{"t":21.0,"r":320},{"t":21.6,"r":320},{"t":22.2,"r":320},{"t":22.8,"r":320},{"t":23.4,"r":320},{"t":24.0,"r":320},{"t":24.6,"r":320},{"t":25.2,"r":320},{"t":25.8,"r":320},{"t":26.4,"r":320},{"t":27.0,"r":320},{"t":27.6,"r":320},{"t":28.2,"r":320},{"t":28.8,"r":320},{"t":29.4,"r":320},{"t":30.0,"r":320},
{"t":14.7,"r":330},{"t":15.3,"r":330},{"t":15.9,"r":330},{"t":16.5,"r":330},{"t":17.1,"r":330},{"t":17.7,"r":330},{"t":18.3,"r":330},{"t":18.9,"r":330},{"t":19.5,"r":330},{"t":20.1,"r":330},{"t":20.7,"r":330},{"t":21.3,"r":330},{"t":21.9,"r":330},{"t":22.5,"r":330},{"t":23.1,"r":330},{"t":23.7,"r":330},{"t":24.3,"r":330},{"t":24.9,"r":330},{"t":25.5,"r":330},{"t":26.1,"r":330},{"t":26.7,"r":330},{"t":27.3,"r":330},{"t":27.9,"r":330},{"t":28.5,"r":330},{"t":29.1,"r":330},{"t":29.7,"r":330},{"t":30.3,"r":330},
{"t":14.7,"r":340},{"t":15.3,"r":340},{"t":15.9,"r":340},{"t":16.5,"r":340},{"t":17.1,"r":340},{"t":17.7,"r":340},{"t":18.3,"r":340},{"t":18.9,"r":340},{"t":19.5,"r":340},{"t":20.1,"r":340},{"t":20.7,"r":340},{"t":21.3,"r":340},{"t":21.9,"r":340},{"t":22.5,"r":340},{"t":23.1,"r":340},{"t":23.7,"r":340},{"t":24.3,"r":340},{"t":24.9,"r":340},{"t":25.5,"r":340},{"t":26.1,"r":340},{"t":26.7,"r":340},{"t":27.3,"r":340},{"t":27.9,"r":340},{"t":28.5,"r":340},{"t":29.1,"r":340},{"t":29.7,"r":340},{"t":30.3,"r":340},
{"t":15.6,"r":350},{"t":16.2,"r":350},{"t":16.8,"r":350},{"t":17.4,"r":350},{"t":18.0,"r":350},{"t":18.6,"r":350},{"t":19.2,"r":350},{"t":19.8,"r":350},{"t":20.4,"r":350},{"t":21.0,"r":350},{"t":21.6,"r":350},{"t":22.2,"r":350},{"t":22.8,"r":350},{"t":23.4,"r":350},{"t":24.0,"r":350},{"t":24.6,"r":350},{"t":25.2,"r":350},{"t":25.8,"r":350},{"t":26.4,"r":350},{"t":27.0,"r":350},{"t":27.6,"r":350},{"t":28.2,"r":350},{"t":28.8,"r":350},{"t":29.4,"r":350},{"t":30.0,"r":350},
{"t":16.8,"r":360},{"t":17.4,"r":360},{"t":18.0,"r":360},{"t":18.6,"r":360},{"t":19.2,"r":360},{"t":19.8,"r":360},{"t":20.4,"r":360},{"t":21.0,"r":360},{"t":21.6,"r":360},{"t":22.2,"r":360},{"t":22.8,"r":360},{"t":23.4,"r":360},{"t":24.0,"r":360},{"t":24.6,"r":360},{"t":25.2,"r":360},{"t":25.8,"r":360},{"t":26.4,"r":360},{"t":27.0,"r":360},{"t":27.6,"r":360},{"t":28.2,"r":360},{"t":28.8,"r":360},{"t":29.4,"r":360},{"t":30.0,"r":360},
{"t":17.7,"r":370},{"t":18.3,"r":370},{"t":18.9,"r":370},{"t":19.5,"r":370},{"t":20.1,"r":370},{"t":20.7,"r":370},{"t":21.3,"r":370},{"t":21.9,"r":370},{"t":22.5,"r":370},{"t":23.1,"r":370},{"t":23.7,"r":370},{"t":24.3,"r":370},{"t":24.9,"r":370},{"t":25.5,"r":370},{"t":26.1,"r":370},{"t":26.7,"r":370},{"t":27.3,"r":370},{"t":27.9,"r":370},{"t":28.5,"r":370},{"t":29.1,"r":370},{"t":29.7,"r":370},{"t":30.3,"r":370},
{"t":18.3,"r":380},{"t":18.9,"r":380},{"t":19.5,"r":380},{"t":20.1,"r":380},{"t":20.7,"r":380},{"t":21.3,"r":380},{"t":21.9,"r":380},{"t":22.5,"r":380},{"t":23.1,"r":380},{"t":23.7,"r":380},{"t":24.3,"r":380},{"t":24.9,"r":380},{"t":25.5,"r":380},{"t":26.1,"r":380},{"t":26.7,"r":380},{"t":27.3,"r":380},{"t":27.9,"r":380},{"t":28.5,"r":380},{"t":29.1,"r":380},{"t":29.7,"r":380},{"t":30.3,"r":380},
{"t":19.2,"r":390},{"t":19.8,"r":390},{"t":20.4,"r":390},{"t":21.0,"r":390},{"t":21.6,"r":390},{"t":22.2,"r":390},{"t":22.8,"r":390},{"t":23.4,"r":390},{"t":24.0,"r":390},{"t":24.6,"r":390},{"t":25.2,"r":390},{"t":25.8,"r":390},{"t":26.4,"r":390},{"t":27.0,"r":390},{"t":27.6,"r":390},{"t":28.2,"r":390},{"t":28.8,"r":390},{"t":29.4,"r":390},{"t":30.0,"r":390},
{"t":20.4,"r":400},{"t":21.0,"r":400},{"t":21.6,"r":400},{"t":22.2,"r":400},{"t":22.8,"r":400},{"t":23.4,"r":400},{"t":24.0,"r":400},{"t":24.6,"r":400},{"t":25.2,"r":400},{"t":25.8,"r":400},{"t":26.4,"r":400},{"t":27.0,"r":400},{"t":27.6,"r":400},{"t":28.2,"r":400},{"t":28.8,"r":400},{"t":29.4,"r":400},{"t":30.0,"r":400},
{"t":21.3,"r":410},{"t":21.9,"r":410},{"t":22.5,"r":410},{"t":23.1,"r":410},{"t":23.7,"r":410},{"t":24.3,"r":410},{"t":24.9,"r":410},{"t":25.5,"r":410},{"t":26.1,"r":410},{"t":26.7,"r":410},{"t":27.3,"r":410},{"t":27.9,"r":410},{"t":28.5,"r":410},{"t":29.1,"r":410},{"t":29.7,"r":410},{"t":30.3,"r":410},
{"t":22.5,"r":420},{"t":23.1,"r":420},{"t":23.7,"r":420},{"t":24.3,"r":420},{"t":24.9,"r":420},{"t":25.5,"r":420},{"t":26.1,"r":420},{"t":26.7,"r":420},{"t":27.3,"r":420},{"t":27.9,"r":420},{"t":28.5,"r":420},{"t":29.1,"r":420},{"t":29.7,"r":420},{"t":30.3,"r":420},
{"t":23.4,"r":430},{"t":24.0,"r":430},{"t":24.6,"r":430},{"t":25.2,"r":430},{"t":25.8,"r":430},{"t":26.4,"r":430},{"t":27.0,"r":430},{"t":27.6,"r":430},{"t":28.2,"r":430},{"t":28.8,"r":430},{"t":29.4,"r":430},{"t":30.0,"r":430},
{"t":24.6,"r":440},{"t":25.2,"r":440},{"t":25.8,"r":440},{"t":26.4,"r":440},{"t":27.0,"r":440},{"t":27.6,"r":440},{"t":28.2,"r":440},{"t":28.8,"r":440},{"t":29.4,"r":440},{"t":30.0,"r":440},
{"t":26.1,"r":450},{"t":26.7,"r":450},{"t":27.3,"r":450},{"t":27.9,"r":450},{"t":28.5,"r":450},{"t":29.1,"r":450},{"t":29.7,"r":450},{"t":30.3,"r":450},
{"t":27.3,"r":460},{"t":27.9,"r":460},{"t":28.5,"r":460},{"t":29.1,"r":460},{"t":29.7,"r":460},{"t":30.3,"r":460},
{"t":28.2,"r":470},{"t":28.8,"r":470},{"t":29.4,"r":470},{"t":30.0,"r":470},
{"t":29.4,"r":480},{"t":30.0,"r":480},

{"t":43.5,"r":100},{"t":49.5,"r":100},{"t":50.1,"r":100},{"t":50.7,"r":100},{"t":51.3,"r":100},
{"t":43.2,"r":110},{"t":49.2,"r":110},{"t":49.8,"r":110},{"t":50.4,"r":110},{"t":51.0,"r":110},{"t":51.6,"r":110},
{"t":43.2,"r":120},{"t":48.6,"r":120},{"t":49.2,"r":120},{"t":49.8,"r":120},{"t":50.4,"r":120},{"t":51.0,"r":120},{"t":51.6,"r":120},
{"t":43.5,"r":130},{"t":48.9,"r":130},{"t":49.5,"r":130},{"t":50.1,"r":130},{"t":50.7,"r":130},{"t":51.3,"r":130},
{"t":43.5,"r":140},{"t":48.3,"r":140},{"t":48.9,"r":140},{"t":49.5,"r":140},{"t":50.1,"r":140},{"t":50.7,"r":140},{"t":51.3,"r":140},
{"t":43.2,"r":150},{"t":48.0,"r":150},{"t":48.6,"r":150},{"t":49.2,"r":150},{"t":49.8,"r":150},{"t":50.4,"r":150},{"t":51.0,"r":150},{"t":51.6,"r":150},
{"t":43.2,"r":160},{"t":43.8,"r":160},{"t":48.0,"r":160},{"t":48.6,"r":160},{"t":49.2,"r":160},{"t":49.8,"r":160},{"t":50.4,"r":160},{"t":51.0,"r":160},{"t":51.6,"r":160},
{"t":43.5,"r":170},{"t":44.1,"r":170},{"t":47.7,"r":170},{"t":48.3,"r":170},{"t":48.9,"r":170},{"t":49.5,"r":170},{"t":50.1,"r":170},{"t":50.7,"r":170},{"t":51.3,"r":170},
{"t":43.5,"r":180},{"t":47.7,"r":180},{"t":48.3,"r":180},{"t":48.9,"r":180},{"t":49.5,"r":180},{"t":50.1,"r":180},{"t":50.7,"r":180},{"t":51.3,"r":180},
{"t":43.2,"r":190},{"t":43.8,"r":190},{"t":48.0,"r":190},{"t":48.6,"r":190},{"t":49.2,"r":190},{"t":49.8,"r":190},{"t":50.4,"r":190},{"t":51.0,"r":190},{"t":51.6,"r":190},
{"t":43.2,"r":200},{"t":43.8,"r":200},{"t":48.0,"r":200},{"t":48.6,"r":200},{"t":49.2,"r":200},{"t":49.8,"r":200},{"t":50.4,"r":200},{"t":51.0,"r":200},{"t":51.6,"r":200},
{"t":43.5,"r":210},{"t":44.1,"r":210},{"t":47.7,"r":210},{"t":48.3,"r":210},{"t":48.9,"r":210},{"t":49.5,"r":210},{"t":50.1,"r":210},{"t":50.7,"r":210},{"t":51.3,"r":210},
{"t":43.5,"r":220},{"t":47.7,"r":220},{"t":48.3,"r":220},{"t":48.9,"r":220},{"t":49.5,"r":220},{"t":50.1,"r":220},{"t":50.7,"r":220},{"t":51.3,"r":220},
{"t":43.2,"r":230},{"t":43.8,"r":230},{"t":47.4,"r":230},{"t":48.0,"r":230},{"t":48.6,"r":230},{"t":49.2,"r":230},{"t":49.8,"r":230},{"t":50.4,"r":230},{"t":51.0,"r":230},{"t":51.6,"r":230},
{"t":43.2,"r":240},{"t":43.8,"r":240},{"t":47.4,"r":240},{"t":48.0,"r":240},{"t":48.6,"r":240},{"t":49.2,"r":240},{"t":49.8,"r":240},{"t":50.4,"r":240},{"t":51.0,"r":240},{"t":51.6,"r":240},
{"t":43.5,"r":250},{"t":44.1,"r":250},{"t":47.1,"r":250},{"t":47.7,"r":250},{"t":48.3,"r":250},{"t":48.9,"r":250},{"t":49.5,"r":250},{"t":50.1,"r":250},{"t":50.7,"r":250},{"t":51.3,"r":250},
{"t":43.5,"r":260},{"t":44.1,"r":260},{"t":47.1,"r":260},{"t":47.7,"r":260},{"t":48.3,"r":260},{"t":48.9,"r":260},{"t":49.5,"r":260},{"t":50.1,"r":260},{"t":50.7,"r":260},{"t":51.3,"r":260},
{"t":43.2,"r":270},{"t":43.8,"r":270},{"t":44.4,"r":270},{"t":46.8,"r":270},{"t":47.4,"r":270},{"t":48.0,"r":270},{"t":48.6,"r":270},{"t":49.2,"r":270},{"t":49.8,"r":270},{"t":50.4,"r":270},{"t":51.0,"r":270},{"t":51.6,"r":270},
{"t":43.2,"r":280},{"t":43.8,"r":280},{"t":44.4,"r":280},{"t":46.8,"r":280},{"t":47.4,"r":280},{"t":48.0,"r":280},{"t":48.6,"r":280},{"t":49.2,"r":280},{"t":49.8,"r":280},{"t":50.4,"r":280},{"t":51.0,"r":280},{"t":51.6,"r":280},
{"t":43.5,"r":290},{"t":44.1,"r":290},{"t":44.7,"r":290},{"t":45.3,"r":290},{"t":46.5,"r":290},{"t":47.1,"r":290},{"t":47.7,"r":290},{"t":48.3,"r":290},{"t":48.9,"r":290},{"t":49.5,"r":290},{"t":50.1,"r":290},{"t":50.7,"r":290},{"t":51.3,"r":290},
{"t":43.5,"r":300},{"t":44.1,"r":300},{"t":44.7,"r":300},{"t":45.3,"r":300},{"t":45.9,"r":300},{"t":46.5,"r":300},{"t":47.1,"r":300},{"t":47.7,"r":300},{"t":48.3,"r":300},{"t":48.9,"r":300},{"t":49.5,"r":300},{"t":50.1,"r":300},{"t":50.7,"r":300},{"t":51.3,"r":300},
{"t":43.2,"r":310},{"t":43.8,"r":310},{"t":44.4,"r":310},{"t":45.0,"r":310},{"t":45.6,"r":310},{"t":46.2,"r":310},{"t":46.8,"r":310},{"t":47.4,"r":310},{"t":48.0,"r":310},{"t":48.6,"r":310},{"t":49.2,"r":310},{"t":49.8,"r":310},{"t":50.4,"r":310},{"t":51.0,"r":310},{"t":51.6,"r":310},
{"t":43.2,"r":320},{"t":43.8,"r":320},{"t":44.4,"r":320},{"t":45.0,"r":320},{"t":45.6,"r":320},{"t":46.2,"r":320},{"t":46.8,"r":320},{"t":47.4,"r":320},{"t":48.0,"r":320},{"t":48.6,"r":320},{"t":49.2,"r":320},{"t":49.8,"r":320},{"t":50.4,"r":320},{"t":51.0,"r":320},{"t":51.6,"r":320},
{"t":43.5,"r":330},{"t":44.1,"r":330},{"t":44.7,"r":330},{"t":45.3,"r":330},{"t":45.9,"r":330},{"t":46.5,"r":330},{"t":47.1,"r":330},{"t":47.7,"r":330},{"t":48.3,"r":330},{"t":48.9,"r":330},{"t":49.5,"r":330},{"t":50.1,"r":330},{"t":50.7,"r":330},{"t":51.3,"r":330},
{"t":43.5,"r":340},{"t":44.1,"r":340},{"t":44.7,"r":340},{"t":45.3,"r":340},{"t":45.9,"r":340},{"t":46.5,"r":340},{"t":47.1,"r":340},{"t":47.7,"r":340},{"t":48.3,"r":340},{"t":48.9,"r":340},{"t":49.5,"r":340},{"t":50.1,"r":340},{"t":50.7,"r":340},{"t":51.3,"r":340},
{"t":43.2,"r":350},{"t":43.8,"r":350},{"t":44.4,"r":350},{"t":45.0,"r":350},{"t":45.6,"r":350},{"t":46.2,"r":350},{"t":46.8,"r":350},{"t":47.4,"r":350},{"t":48.0,"r":350},{"t":48.6,"r":350},{"t":49.2,"r":350},{"t":49.8,"r":350},{"t":50.4,"r":350},{"t":51.0,"r":350},{"t":51.6,"r":350},
{"t":43.2,"r":360},{"t":43.8,"r":360},{"t":44.4,"r":360},{"t":45.0,"r":360},{"t":45.6,"r":360},{"t":46.2,"r":360},{"t":46.8,"r":360},{"t":47.4,"r":360},{"t":48.0,"r":360},{"t":48.6,"r":360},{"t":49.2,"r":360},{"t":49.8,"r":360},{"t":50.4,"r":360},{"t":51.0,"r":360},{"t":51.6,"r":360},
{"t":43.5,"r":370},{"t":44.1,"r":370},{"t":44.7,"r":370},{"t":45.3,"r":370},{"t":45.9,"r":370},{"t":46.5,"r":370},{"t":47.1,"r":370},{"t":47.7,"r":370},{"t":48.3,"r":370},{"t":48.9,"r":370},{"t":49.5,"r":370},{"t":50.1,"r":370},{"t":50.7,"r":370},{"t":51.3,"r":370},
{"t":43.5,"r":380},{"t":44.1,"r":380},{"t":44.7,"r":380},{"t":45.3,"r":380},{"t":45.9,"r":380},{"t":46.5,"r":380},{"t":47.1,"r":380},{"t":47.7,"r":380},{"t":48.3,"r":380},{"t":48.9,"r":380},{"t":49.5,"r":380},{"t":50.1,"r":380},{"t":50.7,"r":380},{"t":51.3,"r":380},
{"t":43.2,"r":390},{"t":43.8,"r":390},{"t":44.4,"r":390},{"t":45.0,"r":390},{"t":45.6,"r":390},{"t":46.2,"r":390},{"t":46.8,"r":390},{"t":47.4,"r":390},{"t":48.0,"r":390},{"t":48.6,"r":390},{"t":49.2,"r":390},{"t":49.8,"r":390},{"t":50.4,"r":390},{"t":51.0,"r":390},{"t":51.6,"r":390},
{"t":43.2,"r":400},{"t":43.8,"r":400},{"t":44.4,"r":400},{"t":45.0,"r":400},{"t":45.6,"r":400},{"t":46.2,"r":400},{"t":46.8,"r":400},{"t":47.4,"r":400},{"t":48.0,"r":400},{"t":48.6,"r":400},{"t":49.2,"r":400},{"t":49.8,"r":400},{"t":50.4,"r":400},{"t":51.0,"r":400},{"t":51.6,"r":400},
{"t":43.5,"r":410},{"t":44.1,"r":410},{"t":44.7,"r":410},{"t":45.3,"r":410},{"t":45.9,"r":410},{"t":46.5,"r":410},{"t":47.1,"r":410},{"t":47.7,"r":410},{"t":48.3,"r":410},{"t":48.9,"r":410},{"t":49.5,"r":410},{"t":50.1,"r":410},{"t":50.7,"r":410},{"t":51.3,"r":410},
{"t":43.5,"r":420},{"t":44.1,"r":420},{"t":44.7,"r":420},{"t":45.3,"r":420},{"t":45.9,"r":420},{"t":46.5,"r":420},{"t":47.1,"r":420},{"t":47.7,"r":420},{"t":48.3,"r":420},{"t":48.9,"r":420},{"t":49.5,"r":420},{"t":50.1,"r":420},{"t":50.7,"r":420},{"t":51.3,"r":420},
{"t":43.2,"r":430},{"t":43.8,"r":430},{"t":44.4,"r":430},{"t":45.0,"r":430},{"t":45.6,"r":430},{"t":46.2,"r":430},{"t":46.8,"r":430},{"t":47.4,"r":430},{"t":48.0,"r":430},{"t":48.6,"r":430},{"t":49.2,"r":430},{"t":49.8,"r":430},{"t":50.4,"r":430},{"t":51.0,"r":430},{"t":51.6,"r":430},
{"t":43.2,"r":440},{"t":43.8,"r":440},{"t":44.4,"r":440},{"t":45.0,"r":440},{"t":45.6,"r":440},{"t":46.2,"r":440},{"t":46.8,"r":440},{"t":47.4,"r":440},{"t":48.0,"r":440},{"t":48.6,"r":440},{"t":49.2,"r":440},{"t":49.8,"r":440},{"t":50.4,"r":440},{"t":51.0,"r":440},{"t":51.6,"r":440},
{"t":43.5,"r":450},{"t":44.1,"r":450},{"t":44.7,"r":450},{"t":45.3,"r":450},{"t":45.9,"r":450},{"t":46.5,"r":450},{"t":47.1,"r":450},{"t":47.7,"r":450},{"t":48.3,"r":450},{"t":48.9,"r":450},{"t":49.5,"r":450},{"t":50.1,"r":450},{"t":50.7,"r":450},{"t":51.3,"r":450},
{"t":43.5,"r":460},{"t":44.1,"r":460},{"t":44.7,"r":460},{"t":45.3,"r":460},{"t":45.9,"r":460},{"t":46.5,"r":460},{"t":47.1,"r":460},{"t":47.7,"r":460},{"t":48.3,"r":460},{"t":48.9,"r":460},{"t":49.5,"r":460},{"t":50.1,"r":460},{"t":50.7,"r":460},{"t":51.3,"r":460},
{"t":43.2,"r":470},{"t":43.8,"r":470},{"t":44.4,"r":470},{"t":45.0,"r":470},{"t":45.6,"r":470},{"t":46.2,"r":470},{"t":46.8,"r":470},{"t":47.4,"r":470},{"t":48.0,"r":470},{"t":48.6,"r":470},{"t":49.2,"r":470},{"t":49.8,"r":470},{"t":50.4,"r":470},{"t":51.0,"r":470},{"t":51.6,"r":470},
{"t":43.2,"r":480},{"t":43.8,"r":480},{"t":44.4,"r":480},{"t":45.0,"r":480},{"t":45.6,"r":480},{"t":46.2,"r":480},{"t":46.8,"r":480},{"t":47.4,"r":480},{"t":48.0,"r":480},{"t":48.6,"r":480},{"t":49.2,"r":480},{"t":49.8,"r":480},{"t":50.4,"r":480},{"t":51.0,"r":480},{"t":51.6,"r":480},
{"t":43.5,"r":490},{"t":44.1,"r":490},{"t":44.7,"r":490},{"t":45.3,"r":490},{"t":45.9,"r":490},{"t":46.5,"r":490},{"t":47.1,"r":490},{"t":47.7,"r":490},{"t":48.3,"r":490},{"t":48.9,"r":490},{"t":49.5,"r":490},{"t":50.1,"r":490},{"t":50.7,"r":490},{"t":51.3,"r":490},
{"t":43.5,"r":500},{"t":44.1,"r":500},{"t":44.7,"r":500},{"t":45.3,"r":500},{"t":45.9,"r":500},{"t":46.5,"r":500},{"t":47.1,"r":500},{"t":47.7,"r":500},{"t":48.3,"r":500},{"t":48.9,"r":500},{"t":49.5,"r":500},{"t":50.1,"r":500},{"t":50.7,"r":500},{"t":51.3,"r":500},
{"t":43.2,"r":510},{"t":43.8,"r":510},{"t":44.4,"r":510},{"t":45.0,"r":510},{"t":45.6,"r":510},{"t":46.2,"r":510},{"t":46.8,"r":510},{"t":47.4,"r":510},{"t":48.0,"r":510},{"t":48.6,"r":510},{"t":49.2,"r":510},{"t":49.8,"r":510},{"t":50.4,"r":510},{"t":51.0,"r":510},{"t":51.6,"r":510},
{"t":43.2,"r":520},{"t":43.8,"r":520},{"t":44.4,"r":520},{"t":45.0,"r":520},{"t":45.6,"r":520},{"t":46.2,"r":520},{"t":46.8,"r":520},{"t":47.4,"r":520},{"t":48.0,"r":520},{"t":48.6,"r":520},{"t":49.2,"r":520},{"t":49.8,"r":520},{"t":50.4,"r":520},{"t":51.0,"r":520},{"t":51.6,"r":520},
{"t":43.5,"r":530},{"t":44.1,"r":530},{"t":44.7,"r":530},{"t":45.3,"r":530},{"t":45.9,"r":530},{"t":46.5,"r":530},{"t":47.1,"r":530},{"t":47.7,"r":530},{"t":48.3,"r":530},{"t":48.9,"r":530},{"t":49.5,"r":530},{"t":50.1,"r":530},{"t":50.7,"r":530},{"t":51.3,"r":530},
{"t":43.5,"r":540},{"t":44.1,"r":540},{"t":44.7,"r":540},{"t":45.3,"r":540},{"t":45.9,"r":540},{"t":46.5,"r":540},{"t":47.1,"r":540},{"t":47.7,"r":540},{"t":48.3,"r":540},{"t":48.9,"r":540},{"t":49.5,"r":540},{"t":50.1,"r":540},{"t":50.7,"r":540},{"t":51.3,"r":540},
{"t":43.2,"r":550},{"t":43.8,"r":550},{"t":44.4,"r":550},{"t":45.0,"r":550},{"t":45.6,"r":550},{"t":46.2,"r":550},{"t":46.8,"r":550},{"t":47.4,"r":550},{"t":48.0,"r":550},{"t":48.6,"r":550},{"t":49.2,"r":550},{"t":49.8,"r":550},{"t":50.4,"r":550},{"t":51.0,"r":550},{"t":51.6,"r":550},
{"t":43.2,"r":560},{"t":43.8,"r":560},{"t":44.4,"r":560},{"t":45.0,"r":560},{"t":45.6,"r":560},{"t":46.2,"r":560},{"t":46.8,"r":560},{"t":47.4,"r":560},{"t":48.0,"r":560},{"t":48.6,"r":560},{"t":49.2,"r":560},{"t":49.8,"r":560},{"t":50.4,"r":560},{"t":51.0,"r":560},{"t":51.6,"r":560},
{"t":43.5,"r":570},{"t":44.1,"r":570},{"t":44.7,"r":570},{"t":45.3,"r":570},{"t":45.9,"r":570},{"t":46.5,"r":570},{"t":47.1,"r":570},{"t":47.7,"r":570},{"t":48.3,"r":570},{"t":48.9,"r":570},{"t":49.5,"r":570},{"t":50.1,"r":570},{"t":50.7,"r":570},{"t":51.3,"r":570},
{"t":43.5,"r":580},{"t":44.1,"r":580},{"t":44.7,"r":580},{"t":45.3,"r":580},{"t":45.9,"r":580},{"t":46.5,"r":580},{"t":47.1,"r":580},{"t":47.7,"r":580},{"t":48.3,"r":580},{"t":48.9,"r":580},{"t":49.5,"r":580},{"t":50.1,"r":580},{"t":50.7,"r":580},{"t":51.3,"r":580},
{"t":46.2,"r":590},{"t":46.8,"r":590},{"t":47.4,"r":590},{"t":48.0,"r":590},{"t":48.6,"r":590},{"t":49.2,"r":590},{"t":49.8,"r":590},{"t":50.4,"r":590},{"t":51.0,"r":590},{"t":51.6,"r":590},
{"t":46.8,"r":600},{"t":47.4,"r":600},{"t":48.0,"r":600},{"t":48.6,"r":600},{"t":49.2,"r":600},{"t":49.8,"r":600},{"t":50.4,"r":600},{"t":51.0,"r":600}
]},
 "mark": {"type": "point", "shape": "M-1,0H1M0,-1V1", "size": 42, "filled": false, "strokeWidth": 1.4, "opacity": 1},
 "encoding": {
  "x": {"field": "t", "type": "quantitative", "scale": {"domain": [0, 53], "nice": false},
   "axis": {"orient": "bottom", "values": [0,10,20,30,40,50], "tickSize": -4, "labelPadding": 8, "labelFontSize": 11.5, "title": "t [h]", "titleFontSize": 18, "titleFontWeight": "normal", "titleX": 178, "titleY": 27, "titleBaseline": "alphabetic", "titleAlign": "center"}},
  "color": {"datum": "Events Fenton Hill", "type": "nominal",
   "scale": {"domain": ["Events Fenton Hill", "D= 0.17 m²/s"], "range": ["black", "black"]},
   "legend": {"encode": {"symbols": {"update": {"shape": {"signal": "datum.value === 'Events Fenton Hill' ? 'M-1,0H1M0,-1V1' : 'stroke'"}, "size": {"signal": "datum.value === 'Events Fenton Hill' ? 16 : 121"}, "strokeWidth": {"signal": "datum.value === 'Events Fenton Hill' ? 1 : 1.6"}, "stroke": {"value": "black"}, "fill": {"value": "transparent"}, "opacity": {"value": 1}}},
     "labels": {"update": {"fontSize": {"signal": "datum.value === 'Events Fenton Hill' ? 15.5 : 17"}}}}}}
 }},
{"data": {"values": [
{"t":0,"r":0},{"t":0.005,"r":6.2},{"t":0.02,"r":12.4},{"t":0.1,"r":27.7},{"t":0.3,"r":48.0},{"t":0.6,"r":67.9},{"t":1,"r":87.7},{"t":2,"r":124.0},{"t":3,"r":151.9},{"t":4,"r":175.4},{"t":5,"r":196.1},{"t":6,"r":214.8},{"t":8,"r":248.1},{"t":10,"r":277.3},{"t":12,"r":303.8},{"t":15,"r":339.7},{"t":18,"r":372.1},{"t":21,"r":401.9},{"t":24,"r":429.6},{"t":27,"r":455.7},{"t":30,"r":480.3},{"t":34,"r":511.4},{"t":38,"r":540.6},{"t":42,"r":568.4},{"t":46,"r":594.8},{"t":50,"r":620.1},{"t":53,"r":638.5}
]},
 "mark": {"type": "line", "strokeWidth": 1.6},
 "encoding": {
  "x": {"field": "t", "type": "quantitative", "scale": {"domain": [0, 53], "nice": false},
   "axis": {"orient": "top", "values": [0,10,20,30,40,50], "tickSize": -4, "labels": false, "title": null}},
  "color": {"datum": "D= 0.17 m²/s", "type": "nominal",
   "legend": {"encode": {"symbols": {"update": {"shape": {"signal": "datum.value === 'Events Fenton Hill' ? 'M-1,0H1M0,-1V1' : 'stroke'"}, "size": {"signal": "datum.value === 'Events Fenton Hill' ? 16 : 121"}, "strokeWidth": {"signal": "datum.value === 'Events Fenton Hill' ? 1 : 1.6"}, "stroke": {"value": "black"}, "fill": {"value": "transparent"}, "opacity": {"value": 1}}},
     "labels": {"update": {"fontSize": {"signal": "datum.value === 'Events Fenton Hill' ? 15.5 : 17"}}}}}}
 }}
],
"resolve": {"axis": {"x": "independent"}}
}
